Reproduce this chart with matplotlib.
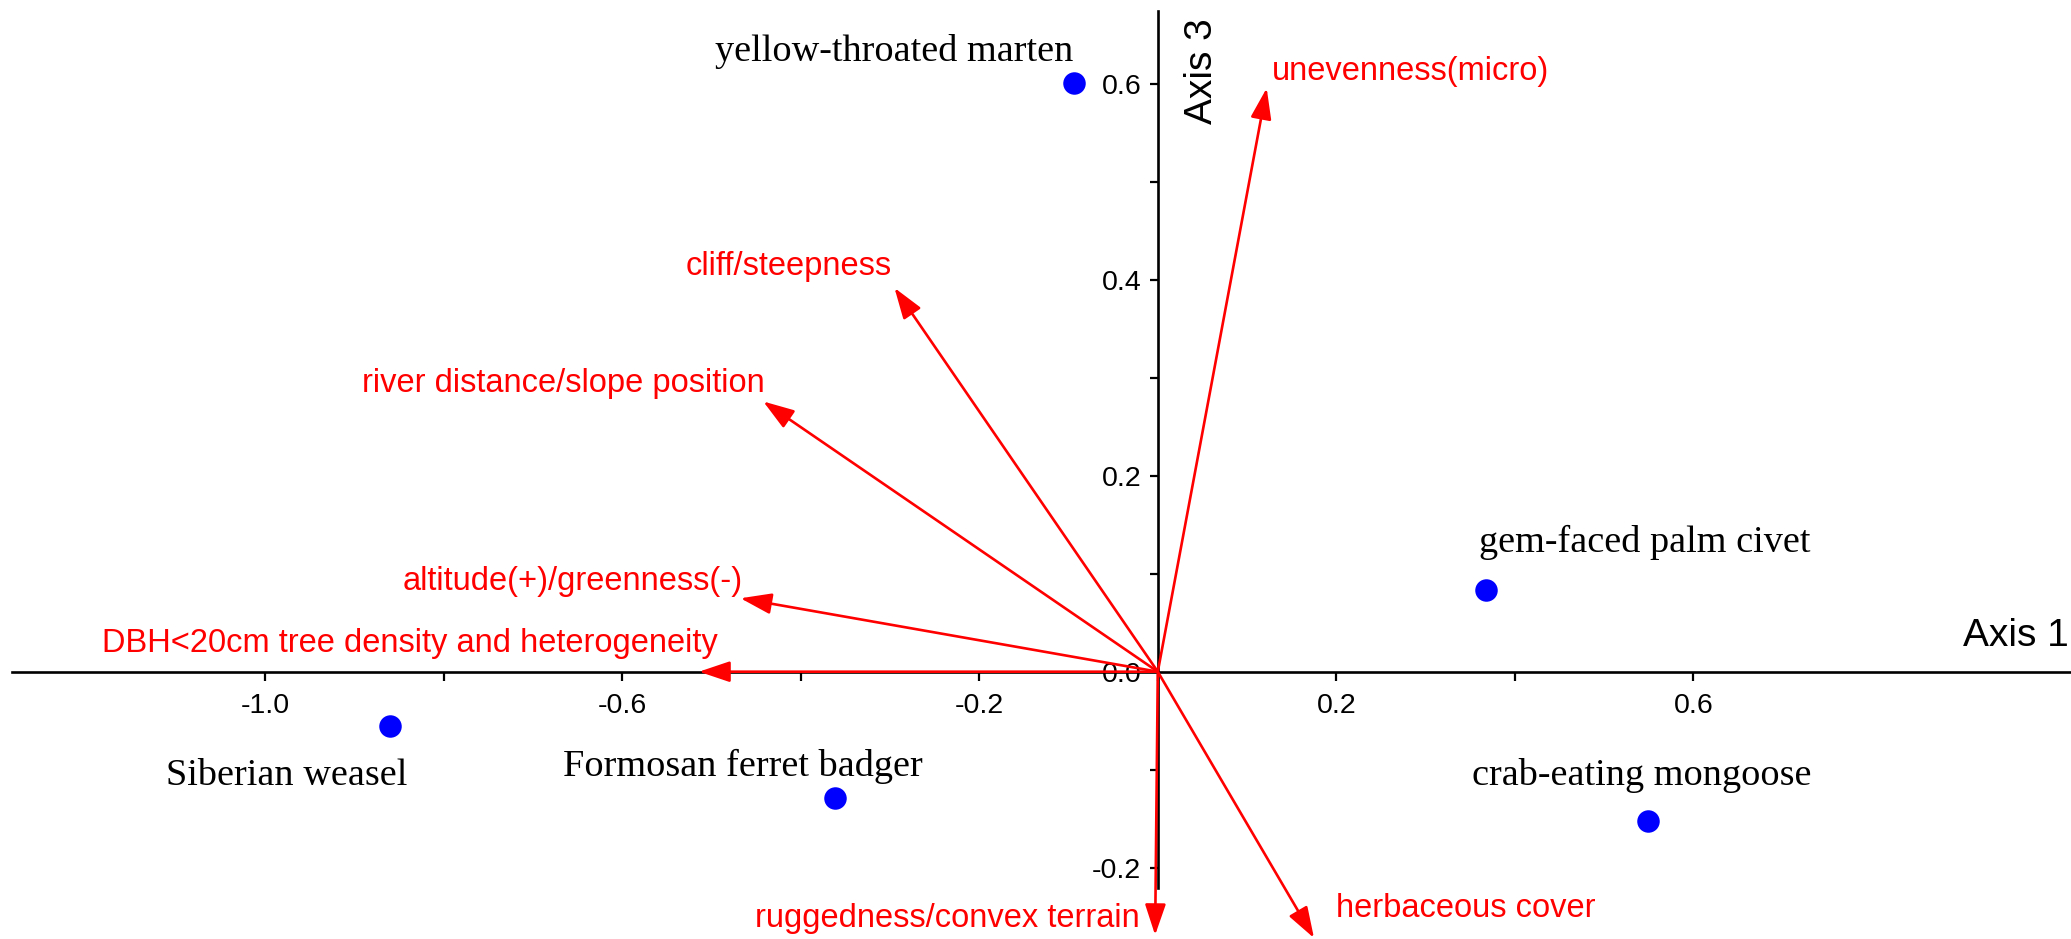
import matplotlib.pyplot as plt

plt.rcParams['font.family'] = ['Liberation Sans', 'DejaVu Sans']

# species scores (Axis 1, Axis 3)
species = ["yellow-throated marten", "gem-faced palm civet", "crab-eating mongoose",
           "Formosan ferret badger", "Siberian weasel"]
sp_x = [-0.094, 0.368, 0.549, -0.362, -0.860]
sp_y = [0.601, 0.083, -0.152, -0.129, -0.055]

# environmental vectors (arrow tips)
variables = ["unevenness(micro)", "cliff/steepness", "river distance/slope position",
             "altitude(+)/greenness(-)", "DBH<20cm tree density and heterogeneity",
             "ruggedness/convex terrain", "herbaceous cover"]
var_x = [0.122, -0.295, -0.442, -0.4675, -0.514, -0.003, 0.175]
var_y = [0.596, 0.392, 0.276, 0.075, 0.0, -0.269, -0.272]

x_ticks = [-1.0, -0.8, -0.6, -0.4, -0.2, 0.0, 0.2, 0.4, 0.6]
x_labels = ['-1.0', '', '-0.6', '', '-0.2', '', '0.2', '', '0.6']
y_ticks = [-0.2, -0.1, 0.0, 0.1, 0.2, 0.3, 0.4, 0.5, 0.6]
y_labels = ['-0.2', '', '0.0', '', '0.2', '', '0.4', '', '0.6']

# label placement: offset in pixels from the point / arrow tip, and alignment
sp_offsets = [(-1, 22, 'right'), (-7, 38, 'left'), (-6, 36, 'center'),
              (88, 22, 'right'), (17, -59, 'right')]
var_offsets = [(5, 8, 'left'), (-3, 13, 'right'), (2, 9, 'right'), (2, 8, 'right'),
               (19, 20, 'right'), (-15, 8, 'right'), (22, 21, 'left')]
px = 0.72  # points per pixel at dpi 100

fig = plt.figure(figsize=(20.71, 9.39), dpi=100)
ax = fig.add_axes([0, 0, 1, 1])
ax.set_xlim(-1.297, 1.023)
ax.set_ylim(-0.273, 0.686)

for side in ['top', 'right']:
    ax.spines[side].set_visible(False)
ax.spines['left'].set_position(('data', 0))
ax.spines['bottom'].set_position(('data', 0))
ax.spines['left'].set_bounds(-0.221, 0.675)
ax.spines['bottom'].set_bounds(-1.284, 1.023)
for side in ['left', 'bottom']:
    ax.spines[side].set_linewidth(1.9)

ax.set_xticks(x_ticks, x_labels)
ax.set_yticks(y_ticks, y_labels)
ax.tick_params(axis='x', direction='out', length=6.5, width=1.6, pad=9, labelsize=20.5)
ax.tick_params(axis='y', direction='out', length=6, width=1.6, pad=6, labelsize=20.5)

# vectors
for name, x, y, (dx, dy, ha) in zip(variables, var_x, var_y, var_offsets):
    ax.annotate('', xy=(x, y), xytext=(0, 0),
                arrowprops=dict(arrowstyle='-|>,head_length=0.95,head_width=0.32',
                                mutation_scale=20, color='red', lw=1.9,
                                shrinkA=0, shrinkB=0), zorder=4)
    ax.annotate(name, (x, y), xytext=(dx * px, dy * px), textcoords='offset points',
                ha=ha, va='baseline', color='red', fontsize=23.5)

# species
ax.scatter(sp_x, sp_y, s=16.2 ** 2, color='blue', linewidths=0, zorder=5)
for name, x, y, (dx, dy, ha) in zip(species, sp_x, sp_y, sp_offsets):
    ax.annotate(name, (x, y), xytext=(dx * px, dy * px), textcoords='offset points',
                ha=ha, va='baseline', color='black', fontsize=27.5,
                family=['Liberation Serif', 'DejaVu Serif'])

ax.annotate('Axis 1', xy=(1, 0), xycoords=('axes fraction', 'data'),
            xytext=(-2 * px, 26 * px), textcoords='offset points',
            ha='right', va='baseline', fontsize=28)
ax.annotate('Axis 3', xy=(0, 0.613), xytext=(54 * px, 0), textcoords='offset points',
            rotation=90, rotation_mode='anchor', ha='center', va='baseline', fontsize=28)

fig.savefig('out.png', dpi=100)
